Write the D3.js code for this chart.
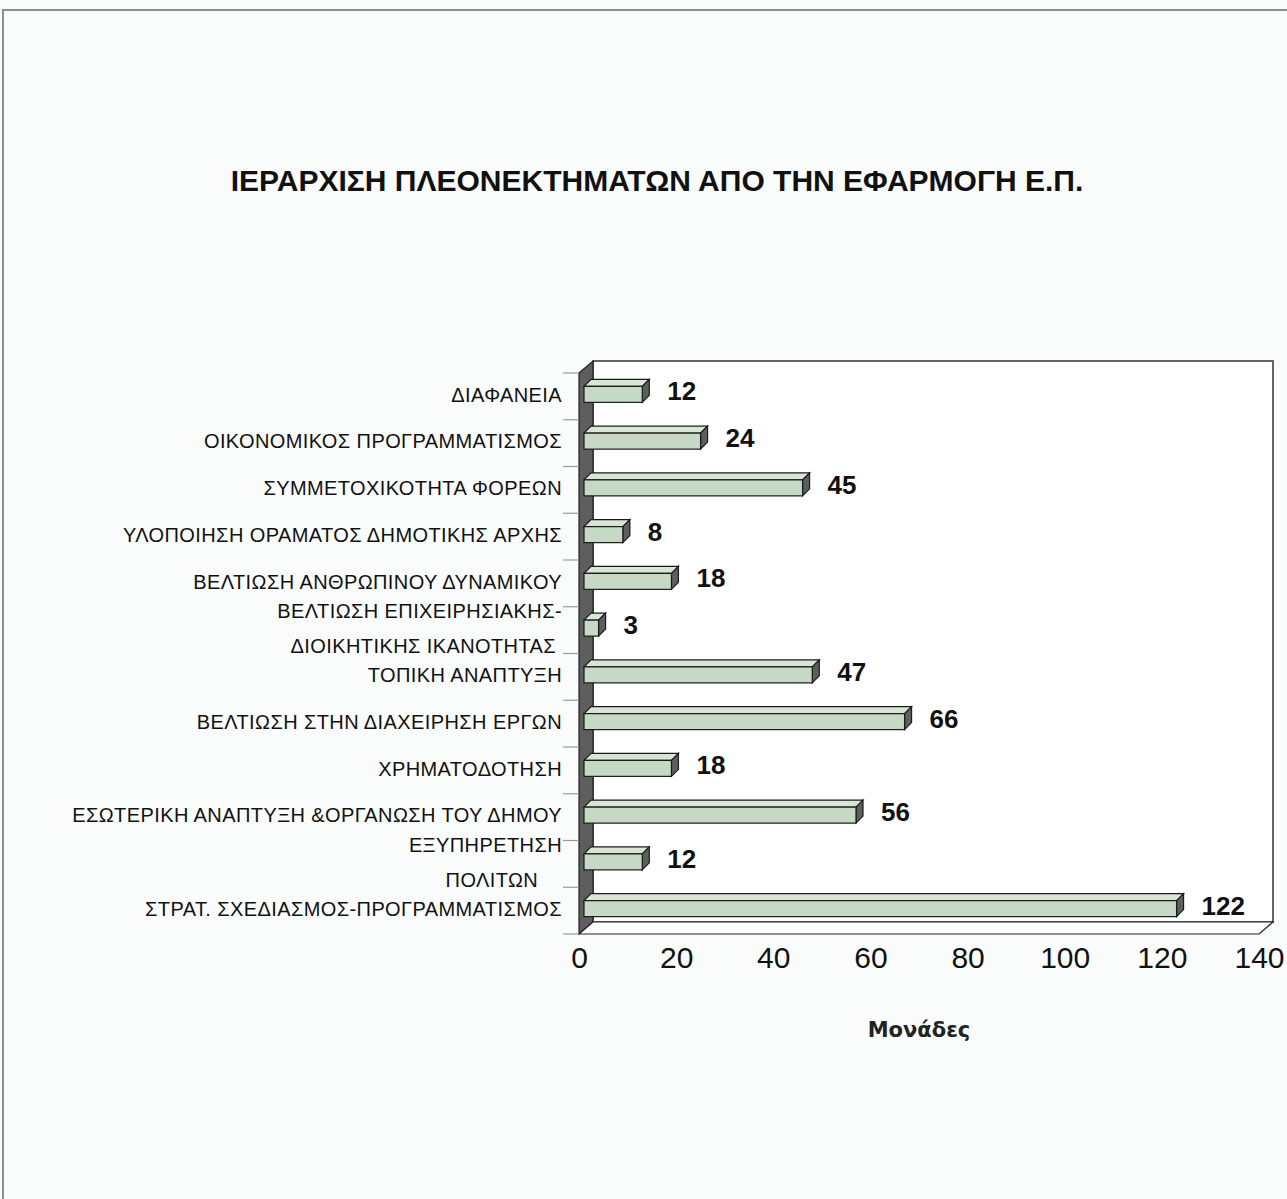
<!DOCTYPE html>
<html>
<head>
<meta charset="utf-8">
<script src="https://cdn.jsdelivr.net/npm/d3@7"></script>
<style>
  body { margin: 0; background: #fafcfb; }
  svg { display: block; }
</style>
</head>
<body>
<div id="chart"></div>
<script>
// chart data
const chartTitle = "ΙΕΡΑΡΧΙΣΗ ΠΛΕΟΝΕΚΤΗΜΑΤΩΝ ΑΠΟ ΤΗΝ ΕΦΑΡΜΟΓΗ Ε.Π.";
const axisTitle = "Μονάδες";
const categories = [
  ["ΔΙΑΦΑΝΕΙΑ"],
  ["ΟΙΚΟΝΟΜΙΚΟΣ ΠΡΟΓΡΑΜΜΑΤΙΣΜΟΣ"],
  ["ΣΥΜΜΕΤΟΧΙΚΟΤΗΤΑ ΦΟΡΕΩΝ"],
  ["ΥΛΟΠΟΙΗΣΗ ΟΡΑΜΑΤΟΣ ΔΗΜΟΤΙΚΗΣ ΑΡΧΗΣ"],
  ["ΒΕΛΤΙΩΣΗ ΑΝΘΡΩΠΙΝΟΥ ΔΥΝΑΜΙΚΟΥ"],
  ["ΒΕΛΤΙΩΣΗ ΕΠΙΧΕΙΡΗΣΙΑΚΗΣ-", "ΔΙΟΙΚΗΤΙΚΗΣ ΙΚΑΝΟΤΗΤΑΣ\u00a0"],
  ["ΤΟΠΙΚΗ ΑΝΑΠΤΥΞΗ"],
  ["ΒΕΛΤΙΩΣΗ ΣΤΗΝ ΔΙΑΧΕΙΡΗΣΗ ΕΡΓΩΝ"],
  ["ΧΡΗΜΑΤΟΔΟΤΗΣΗ"],
  ["ΕΣΩΤΕΡΙΚΗ ΑΝΑΠΤΥΞΗ &ΟΡΓΑΝΩΣΗ ΤΟΥ ΔΗΜΟΥ"],
  ["ΕΞΥΠΗΡΕΤΗΣΗ", "ΠΟΛΙΤΩΝ\u00a0\u00a0\u00a0\u00a0"],
  ["ΣΤΡΑΤ. ΣΧΕΔΙΑΣΜΟΣ-ΠΡΟΓΡΑΜΜΑΤΙΣΜΟΣ"]
];
const values = [12, 24, 45, 8, 18, 3, 47, 66, 18, 56, 12, 122];
const xTicks = [0, 20, 40, 60, 80, 100, 120, 140];

const W = 1287, H = 1199;
const plot = { left: 579, right: 1259, top: 373, bottom: 934 };
const depth = { dx: 14, dy: -12 };   // wall depth
const barOff = { dx: 5, dy: -2 };    // bar front plane inside the box
const barDepth = { dx: 7, dy: -7 };

const svg = d3.select('#chart').append('svg')
  .attr('width', W)
  .attr('height', H);

// outer frame
svg.append('rect').attr('x', 0).attr('y', 0).attr('width', W).attr('height', H).attr('fill', '#fafcfb');
svg.append('path')
  .attr('d', `M3,${H} L3,10 L${W},10`)
  .attr('fill', 'none')
  .attr('stroke', '#8a8f94')
  .attr('stroke-width', 2);

// title
svg.append('text')
  .attr('x', 657)
  .attr('y', 191)
  .attr('text-anchor', 'middle')
  .attr('font-family', 'Liberation Sans, Arial, sans-serif')
  .attr('font-weight', 'bold')
  .attr('font-size', 30)
  .attr('fill', '#111')
  .text(chartTitle);

const x = d3.scaleLinear().domain([0, 140]).range([plot.left, plot.right]);
const y = d3.scaleBand()
  .domain(d3.range(categories.length))
  .range([plot.top, plot.bottom])
  .paddingInner(0).paddingOuter(0);

const box = svg.append('g');

// back wall
box.append('rect')
  .attr('x', plot.left + depth.dx)
  .attr('y', plot.top + depth.dy)
  .attr('width', plot.right - plot.left)
  .attr('height', plot.bottom - plot.top)
  .attr('fill', '#ffffff')
  .attr('stroke', '#333')
  .attr('stroke-width', 1.5);

// left side wall
box.append('polygon')
  .attr('points', [
    [plot.left, plot.top],
    [plot.left + depth.dx, plot.top + depth.dy],
    [plot.left + depth.dx, plot.bottom + depth.dy],
    [plot.left, plot.bottom]
  ].join(' '))
  .attr('fill', '#5e5e5e')
  .attr('stroke', '#222')
  .attr('stroke-width', 1.2);

// floor
box.append('polygon')
  .attr('points', [
    [plot.left, plot.bottom],
    [plot.left + depth.dx, plot.bottom + depth.dy],
    [plot.right + depth.dx, plot.bottom + depth.dy],
    [plot.right, plot.bottom]
  ].join(' '))
  .attr('fill', '#ffffff')
  .attr('stroke', '#222')
  .attr('stroke-width', 1.2);

// category tick marks
const bounds = d3.range(categories.length + 1).map(i => plot.top + i * y.step());
box.selectAll('line.tick')
  .data(bounds)
  .enter()
  .append('line')
  .attr('x1', plot.left - 16)
  .attr('x2', plot.left)
  .attr('y1', d => d)
  .attr('y2', d => d)
  .attr('stroke', '#999')
  .attr('stroke-width', 1.2);

// bars
const barH = 16;
const bars = box.selectAll('g.bar')
  .data(values)
  .enter()
  .append('g')
  .attr('class', 'bar');

const xa = () => x(0) + barOff.dx;
const xb = d => x(d) + barOff.dx;
const yt = (d, i) => y(i) + y.bandwidth() / 2 + barOff.dy - barH / 2;

bars.append('polygon') // top face
  .attr('points', (d, i) => {
    const t = yt(d, i);
    return [[xa(), t], [xa() + barDepth.dx, t + barDepth.dy],
            [xb(d) + barDepth.dx, t + barDepth.dy], [xb(d), t]].join(' ');
  })
  .attr('fill', '#d9e6d6')
  .attr('stroke', '#1a1a1a')
  .attr('stroke-width', 1.2);

bars.append('polygon') // side face
  .attr('points', (d, i) => {
    const t = yt(d, i);
    return [[xb(d), t], [xb(d) + barDepth.dx, t + barDepth.dy],
            [xb(d) + barDepth.dx, t + barH + barDepth.dy], [xb(d), t + barH]].join(' ');
  })
  .attr('fill', '#5c5f5c')
  .attr('stroke', '#1a1a1a')
  .attr('stroke-width', 1.2);

bars.append('rect') // front face
  .attr('x', xa())
  .attr('y', (d, i) => yt(d, i))
  .attr('width', d => xb(d) - xa())
  .attr('height', barH)
  .attr('fill', '#c6d9c4')
  .attr('stroke', '#1a1a1a')
  .attr('stroke-width', 1.2);

// value labels
svg.selectAll('text.val')
  .data(values)
  .enter()
  .append('text')
  .attr('class', 'val')
  .attr('x', d => xb(d) + barDepth.dx + 18)
  .attr('y', (d, i) => y(i) + y.bandwidth() / 2 - 3)
  .attr('dominant-baseline', 'middle')
  .attr('font-family', 'Liberation Sans, Arial, sans-serif')
  .attr('font-weight', 'bold')
  .attr('font-size', 26)
  .attr('fill', '#111')
  .text(d => d);

// category labels
const catG = svg.selectAll('text.cat')
  .data(categories)
  .enter()
  .append('text')
  .attr('class', 'cat')
  .attr('text-anchor', 'end')
  .attr('font-family', 'Liberation Sans, Arial, sans-serif')
  .attr('font-size', 20)
  .attr('letter-spacing', 0.4)
  .attr('fill', '#111')
  .attr('transform', (d, i) => `translate(562,${y(i) + y.bandwidth() / 2})`);

catG.selectAll('tspan')
  .data(d => d.map((t, j) => ({ t, j, n: d.length })))
  .enter()
  .append('tspan')
  .attr('x', 0)
  .attr('y', d => (d.j - (d.n - 1) / 2) * 35)
  .attr('dominant-baseline', 'middle')
  .attr('xml:space', 'preserve')
  .text(d => d.t);

// x axis tick labels
const xAxis = d3.axisBottom(x).tickValues(xTicks).tickSize(0).tickPadding(0);
const axG = svg.append('g')
  .attr('transform', `translate(0,${plot.bottom + 13})`)
  .call(xAxis);
axG.select('.domain').remove();
axG.selectAll('text')
  .attr('font-family', 'Liberation Sans, Arial, sans-serif')
  .attr('font-size', 30)
  .attr('fill', '#111')
  .attr('dy', '0.71em');

// axis title
svg.append('text')
  .attr('x', (plot.left + plot.right) / 2)
  .attr('y', 1037)
  .attr('text-anchor', 'middle')
  .attr('font-family', 'DejaVu Sans, sans-serif')
  .attr('font-weight', 'bold')
  .attr('font-size', 21)
  .attr('fill', '#222')
  .text(axisTitle);
</script>
</body>
</html>
